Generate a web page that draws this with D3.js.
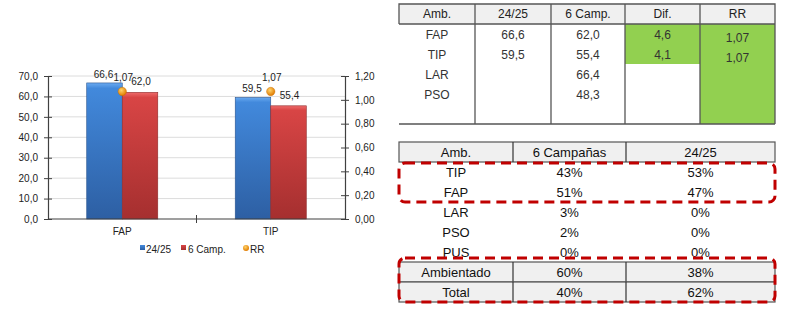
<!DOCTYPE html>
<html>
<head>
<meta charset="utf-8">
<script src="https://cdn.jsdelivr.net/npm/d3@7"></script>
<style>
  body { margin: 0; background: #ffffff; }
  svg { display: block; font-family: Arial, "Liberation Sans", sans-serif; }
</style>
</head>
<body>
<div id="chart"></div>
<script>
// chart data
const categories = ["FAP", "TIP"];
const serieActual = [66.6, 59.5];   // 24/25
const serieSeis = [62.0, 55.4];     // 6 Camp.
const serieRR = [1.07, 1.07];
const leftTicks = [0, 10, 20, 30, 40, 50, 60, 70];
const rightTicks = [0, 0.2, 0.4, 0.6, 0.8, 1.0, 1.2];
const legendLabels = ["24/25", "6 Camp.", "RR"];

// table 1
const t1Header = ["Amb.", "24/25", "6 Camp.", "Dif.", "RR"];
const t1Amb = ["FAP", "TIP", "LAR", "PSO"];
const t1Actual = ["66,6", "59,5", "", ""];
const t1Seis = ["62,0", "55,4", "66,4", "48,3"];
const t1Dif = ["4,6", "4,1"];
const t1RR = ["1,07", "1,07"];

// table 2
const t2Header = ["Amb.", "6 Campañas", "24/25"];
const t2Amb = ["TIP", "FAP", "LAR", "PSO", "PUS"];
const t2Seis = ["43%", "51%", "3%", "2%", "0%"];
const t2Actual = ["53%", "47%", "0%", "0%", "0%"];
const t2Foot = ["Ambientado", "Total"];
const t2FootSeis = ["60%", "40%"];
const t2FootActual = ["38%", "62%"];

const fmt1 = v => d3.format(".1f")(v).replace(".", ",");
const fmt2 = v => d3.format(".2f")(v).replace(".", ",");

const svg = d3.select("#chart").append("svg")
    .attr("width", 790)
    .attr("height", 312);

const defs = svg.append("defs");
function vGrad(id, c1, c2, c3) {
    const g = defs.append("linearGradient").attr("id", id)
        .attr("x1", 0).attr("y1", 0).attr("x2", 0).attr("y2", 1);
    g.append("stop").attr("offset", "0%").attr("stop-color", c1);
    g.append("stop").attr("offset", "4%").attr("stop-color", c2);
    g.append("stop").attr("offset", "100%").attr("stop-color", c3);
}
vGrad("gBlue", "#6aaaf0", "#4289dc", "#2d5fa3");
vGrad("gRed", "#ee6b6b", "#d84545", "#a52f2f");
const rg = defs.append("radialGradient").attr("id", "gOrange")
    .attr("cx", "40%").attr("cy", "35%").attr("r", "65%");
rg.append("stop").attr("offset", "0%").attr("stop-color", "#ffd36a");
rg.append("stop").attr("offset", "100%").attr("stop-color", "#e07b00");

// ---- chart ----
const plotLeft = 48, plotRight = 345, plotTop = 76, plotBottom = 219;

const y = d3.scaleLinear().domain([0, 70]).range([plotBottom, plotTop]);
const yR = d3.scaleLinear().domain([0, 1.2]).range([plotBottom, plotTop]);
const x = d3.scaleBand().domain(categories).range([plotLeft, plotRight]);
const xs = d3.scaleBand().domain(["a", "s"]).range([0, x.bandwidth()]).paddingOuter(1.09).paddingInner(0);

// gridlines
svg.append("g").selectAll("line")
    .data(leftTicks.filter(d => d > 0))
    .join("line")
    .attr("x1", plotLeft).attr("x2", plotRight)
    .attr("y1", d => y(d)).attr("y2", d => y(d))
    .attr("stroke", "#dcdcdc");

// bars
const groups = svg.append("g").selectAll("g")
    .data(categories)
    .join("g")
    .attr("transform", d => `translate(${x(d)},0)`);

groups.append("rect")
    .attr("x", xs("a"))
    .attr("y", (d, i) => y(serieActual[i]))
    .attr("width", xs.bandwidth())
    .attr("height", (d, i) => plotBottom - y(serieActual[i]))
    .attr("fill", "url(#gBlue)")
    .attr("stroke", "#2a5590").attr("stroke-width", 0.6);

groups.append("rect")
    .attr("x", xs("s"))
    .attr("y", (d, i) => y(serieSeis[i]))
    .attr("width", xs.bandwidth())
    .attr("height", (d, i) => plotBottom - y(serieSeis[i]))
    .attr("fill", "url(#gRed)")
    .attr("stroke", "#8e2a2a").attr("stroke-width", 0.6);

// axes
const axL = svg.append("g")
    .attr("transform", `translate(${plotLeft},0)`)
    .call(d3.axisLeft(y).tickValues(leftTicks).tickFormat(fmt1).tickSize(4).tickPadding(6));
axL.selectAll(".tick line").attr("x1", 4);
const axR = svg.append("g")
    .attr("transform", `translate(${plotRight},0)`)
    .call(d3.axisRight(yR).tickValues(rightTicks).tickFormat(fmt2).tickSize(4).tickPadding(6));
axR.selectAll(".tick line").attr("x1", -4);
const axB = svg.append("g")
    .attr("transform", `translate(0,${plotBottom})`)
    .call(d3.axisBottom(x).tickSize(0).tickPadding(9));
[axL, axR, axB].forEach(a => {
    a.select(".domain").attr("stroke", "#404040").attr("stroke-width", 1.2);
    a.selectAll(".tick line").attr("stroke", "#404040");
    a.selectAll("text").attr("fill", "#222").style("font-size", "10px").style("font-family", "Arial, 'Liberation Sans', sans-serif");
});
axB.select(".domain").attr("d", `M${plotLeft},0H${plotRight}`);
// category separator tick
svg.append("line")
    .attr("x1", x("TIP")).attr("x2", x("TIP"))
    .attr("y1", plotBottom - 4).attr("y2", plotBottom + 4)
    .attr("stroke", "#404040");

// RR points
svg.append("g").selectAll("circle")
    .data(categories)
    .join("circle")
    .attr("cx", d => x(d) + x.bandwidth() / 2)
    .attr("cy", (d, i) => yR(serieRR[i]))
    .attr("r", 4.2)
    .attr("fill", "url(#gOrange)")
    .attr("stroke", "#c46a00").attr("stroke-width", 0.4);

// data labels
const lbl = svg.append("g").style("font-size", "10px").attr("fill", "#222").attr("text-anchor", "middle");
categories.forEach((c, i) => {
    lbl.append("text")
        .attr("x", x(c) + xs("a") + xs.bandwidth() / 2 - 1)
        .attr("y", y(serieActual[i]) - 5)
        .text(fmt1(serieActual[i]));
    lbl.append("text")
        .attr("x", x(c) + xs("s") + xs.bandwidth() / 2 + 1)
        .attr("y", y(serieSeis[i]) - 7)
        .text(fmt1(serieSeis[i]));
    lbl.append("text")
        .attr("x", x(c) + x.bandwidth() / 2 + 1)
        .attr("y", yR(serieRR[i]) - 10)
        .text(fmt2(serieRR[i]));
});

// legend
const leg = svg.append("g").attr("transform", "translate(140,249)").style("font-size", "10px").attr("fill", "#222");
leg.append("rect").attr("x", 0).attr("y", -4).attr("width", 5).attr("height", 5).attr("fill", "url(#gBlue)");
leg.append("text").attr("x", 6).attr("y", 4).text(legendLabels[0]);
leg.append("rect").attr("x", 41).attr("y", -4).attr("width", 5).attr("height", 5).attr("fill", "url(#gRed)");
leg.append("text").attr("x", 48).attr("y", 4).text(legendLabels[1]);
leg.append("circle").attr("cx", 106).attr("cy", -1).attr("r", 3).attr("fill", "url(#gOrange)");
leg.append("text").attr("x", 110).attr("y", 4).text(legendLabels[2]);

// ---- table 1 ----
const t1 = svg.append("g").style("font-size", "12px").attr("text-anchor", "middle");
const c1 = [399, 475, 551, 625, 700, 775];
const t1Top = 4, t1Head = 24, t1Bottom = 124, t1Row = 20;
const ty1 = d3.scaleBand().domain(d3.range(5)).range([t1Head, t1Head + 5 * t1Row]);

t1.append("rect").attr("x", c1[0]).attr("y", t1Top).attr("width", c1[5] - c1[0]).attr("height", t1Head - t1Top)
    .attr("fill", "#f0f0f0");
// green cells
t1.append("rect").attr("x", c1[3]).attr("y", t1Head).attr("width", c1[4] - c1[3]).attr("height", t1Dif.length * t1Row)
    .attr("fill", "#92d050");
t1.append("rect").attr("x", c1[4]).attr("y", t1Head).attr("width", c1[5] - c1[4]).attr("height", t1Bottom - t1Head)
    .attr("fill", "#92d050");
// lines
t1.append("path")
    .attr("d", `M${c1[0]},${t1Head}V${t1Top}H${c1[5]}V${t1Bottom}M${c1[0]},${t1Head}H${c1[5]}M${c1[0]},${t1Bottom}H${c1[5]}`)
    .attr("fill", "none").attr("stroke", "#555").attr("stroke-width", 1.3);
c1.slice(1, 5).forEach(cx => {
    t1.append("line").attr("x1", cx).attr("x2", cx).attr("y1", t1Top).attr("y2", t1Bottom)
        .attr("stroke", "#555").attr("stroke-width", 1.3);
});
const mid1 = i => (c1[i] + c1[i + 1]) / 2;
t1Header.forEach((h, i) => {
    t1.append("text").attr("x", mid1(i)).attr("y", 18).attr("fill", "#222").text(h);
});
const t1Cols = [t1Amb, t1Actual, t1Seis, t1Dif];
t1Cols.forEach((col, ci) => {
    col.forEach((v, r) => {
        t1.append("text").attr("x", mid1(ci)).attr("y", ty1(r) + 15).attr("fill", "#333").text(v);
    });
});
t1RR.forEach((v, r) => {
    t1.append("text").attr("x", mid1(4)).attr("y", ty1(r) + 18).attr("fill", "#333").text(v);
});

// ---- table 2 ----
const t2 = svg.append("g").style("font-size", "13px").attr("text-anchor", "middle");
const c2 = [399, 513, 626, 775];
const t2Top = 142, t2Row = 20;
const ty2 = d3.scaleBand().domain(d3.range(8)).range([t2Top, t2Top + 8 * t2Row]);
const mid2 = i => (c2[i] + c2[i + 1]) / 2;

// header and footer shading
[0, 6, 7].forEach(r => {
    t2.append("rect").attr("x", c2[0]).attr("y", ty2(r)).attr("width", c2[3] - c2[0]).attr("height", t2Row)
        .attr("fill", "#f0f0f0").attr("stroke", "#555").attr("stroke-width", 1.2);
    c2.slice(1, 3).forEach(cx => {
        t2.append("line").attr("x1", cx).attr("x2", cx).attr("y1", ty2(r)).attr("y2", ty2(r) + t2Row)
            .attr("stroke", "#333").attr("stroke-width", 1.2);
    });
});
t2Header.forEach((h, i) => {
    t2.append("text").attr("x", mid2(i)).attr("y", ty2(0) + 15).attr("fill", "#111").text(h);
});
t2Amb.forEach((a, r) => {
    const yy = ty2(r + 1) + 15;
    t2.append("text").attr("x", mid2(0)).attr("y", yy).attr("fill", "#111").text(a);
    t2.append("text").attr("x", mid2(1)).attr("y", yy).attr("fill", "#111").text(t2Seis[r]);
    t2.append("text").attr("x", mid2(2)).attr("y", yy).attr("fill", "#111").text(t2Actual[r]);
});
t2Foot.forEach((a, r) => {
    const yy = ty2(r + 6) + 15;
    t2.append("text").attr("x", mid2(0)).attr("y", yy).attr("fill", "#111").text(a);
    t2.append("text").attr("x", mid2(1)).attr("y", yy).attr("fill", "#111").text(t2FootSeis[r]);
    t2.append("text").attr("x", mid2(2)).attr("y", yy).attr("fill", "#111").text(t2FootActual[r]);
});

// dashed highlight boxes
const hl = svg.append("g").attr("fill", "none").attr("stroke", "#c00000")
    .attr("stroke-width", 3).attr("stroke-dasharray", "10,6");
hl.append("rect").attr("x", c2[0]).attr("y", ty2(1) + 1).attr("width", c2[3] - c2[0]).attr("height", 2 * t2Row - 1)
    .attr("rx", 6);
hl.append("rect").attr("x", c2[0]).attr("y", ty2(6) - 4).attr("width", c2[3] - c2[0]).attr("height", 2 * t2Row + 4)
    .attr("rx", 6);
</script>
</body>
</html>
